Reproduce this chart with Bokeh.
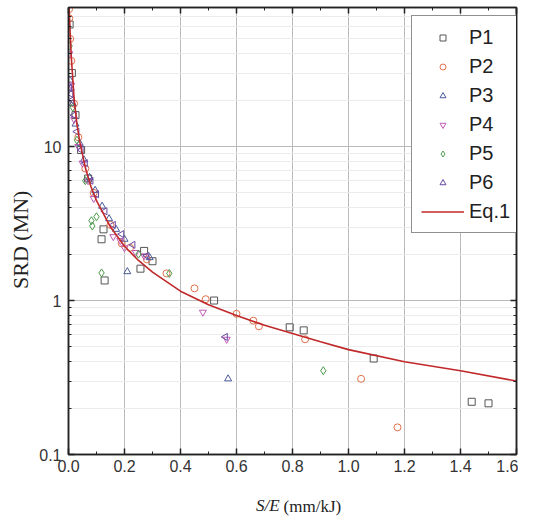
import math
from bokeh.plotting import figure
from bokeh.models import (Legend, LegendItem, LinearAxis, LogAxis, FixedTicker,
                          NumeralTickFormatter, Label, Range1d)
from bokeh.embed import file_html
from bokeh.resources import INLINE

# ---- data ----
p1_x = [0.004, 0.012, 0.025, 0.045, 0.07, 0.118, 0.125, 0.129, 0.257, 0.27, 0.30, 0.52, 0.79, 0.84, 1.09, 1.44, 1.50]
p1_y = [62, 30, 16, 9.5, 6.2, 2.5, 2.9, 1.35, 1.61, 2.1, 1.8, 1.0, 0.67, 0.64, 0.42, 0.22, 0.215]

p2_x = [0.002, 0.003, 0.006, 0.010, 0.020, 0.035, 0.060, 0.090, 0.15, 0.19, 0.22, 0.28, 0.35, 0.45, 0.49, 0.60, 0.66, 0.68, 0.845, 1.045, 1.175]
p2_y = [78, 68, 50, 36, 19, 11.5, 7.2, 5.0, 3.1, 2.35, 2.2, 1.85, 1.5, 1.2, 1.02, 0.82, 0.74, 0.68, 0.56, 0.31, 0.15]

p3_x = [0.005, 0.008, 0.015, 0.025, 0.040, 0.055, 0.075, 0.095, 0.12, 0.145, 0.17, 0.20, 0.21, 0.29, 0.57]
p3_y = [27, 24, 19, 14, 10.5, 8.2, 6.3, 5.2, 4.1, 3.4, 2.9, 2.5, 1.54, 1.9, 0.31]

p4_x = [0.003, 0.010, 0.020, 0.035, 0.050, 0.070, 0.090, 0.16, 0.185, 0.20, 0.24, 0.27, 0.48, 0.565]
p4_y = [40, 25, 15, 10, 7.8, 6.0, 4.6, 2.6, 2.45, 2.2, 2.05, 1.95, 0.84, 0.56]

p5_x = [0.004, 0.015, 0.030, 0.060, 0.082, 0.085, 0.100, 0.118, 0.25, 0.36, 0.91]
p5_y = [45, 18, 11, 6.0, 3.3, 3.05, 3.5, 1.51, 2.0, 1.5, 0.35]

p6_x = [0.004, 0.008, 0.012, 0.020, 0.030, 0.045, 0.060, 0.080, 0.10, 0.13, 0.16, 0.19, 0.23, 0.28, 0.56]
p6_y = [24, 22, 20, 16, 12.5, 9.5, 7.8, 6.0, 4.9, 3.8, 3.1, 2.7, 2.3, 1.95, 0.58]

eq_x = [0.002, 0.005, 0.01, 0.02, 0.03, 0.04, 0.06, 0.08, 0.10, 0.15, 0.20, 0.25, 0.30, 0.40, 0.50,
        0.60, 0.70, 0.80, 0.90, 1.00, 1.20, 1.40, 1.60]
eq_y = [80, 60, 38, 20.5, 14.0, 10.8, 7.3, 5.5, 4.45, 3.0, 2.25, 1.82, 1.53, 1.15, 0.94,
        0.80, 0.69, 0.61, 0.54, 0.48, 0.40, 0.35, 0.30]

x_ticks = [0.0, 0.2, 0.4, 0.6, 0.8, 1.0, 1.2, 1.4, 1.6]
x_minor = [0.1, 0.3, 0.5, 0.7, 0.9, 1.1, 1.3, 1.5]
y_ticks = [0.1, 1, 10]
y_minor = [0.2, 0.3, 0.4, 0.5, 0.6, 0.7, 0.8, 0.9, 2, 3, 4, 5, 6, 7, 8, 9, 20, 30, 40, 50, 60, 70, 80]

# ---- figure ----
p = figure(frame_width=448, frame_height=447, x_range=Range1d(0, 1.6), y_range=Range1d(0.1, 80),
           y_axis_type="log", output_backend="svg", toolbar_location=None,
           min_border_left=68, min_border_right=2, min_border_top=7, min_border_bottom=64)
p.background_fill_color = "white"
p.outline_line_color = "#222222"
p.outline_line_width = 1.5

bottom = p.below[0]
left = p.left[0]
bottom.ticker = FixedTicker(ticks=x_ticks, minor_ticks=x_minor)
left.ticker = FixedTicker(ticks=y_ticks, minor_ticks=y_minor)
bottom.formatter = NumeralTickFormatter(format="0.0")
left.formatter = NumeralTickFormatter(format="0.[0]")

top = LinearAxis(ticker=FixedTicker(ticks=x_ticks, minor_ticks=x_minor),
                 major_label_text_font_size="1px", major_label_text_color=None,
                 major_label_standoff=0)
right = LogAxis(ticker=FixedTicker(ticks=y_ticks, minor_ticks=y_minor),
                major_label_text_font_size="1px", major_label_text_color=None,
                major_label_standoff=0)
p.add_layout(top, "above")
p.add_layout(right, "right")

for ax in [bottom, left, top, right]:
    ax.axis_line_width = 1.5
    ax.axis_line_color = "#222222"
    ax.major_tick_in = 6
    ax.major_tick_out = 0
    ax.minor_tick_in = 3
    ax.minor_tick_out = 0
    ax.major_tick_line_color = "#222222"
    ax.minor_tick_line_color = "#222222"
    ax.major_tick_line_width = 1.5

for ax in [bottom, left]:
    ax.major_label_text_font = "Liberation Sans"
    ax.major_label_text_font_size = "16px"
    ax.major_label_text_color = "#333333"
bottom.major_label_standoff = 5
left.major_label_standoff = 7

p.xgrid.grid_line_color = "#bbbbbb"
p.ygrid.grid_line_color = "#bbbbbb"
p.ygrid.minor_grid_line_color = "#ececec"

# ---- series ----
series = [
    ("P1", p1_x, p1_y, "square", "#555555", 0.0, 7),
    ("P2", p2_x, p2_y, "circle", "#e0704a", 0.0, 7),
    ("P3", p3_x, p3_y, "triangle", "#4a5a9a", 0.0, 7),
    ("P4", p4_x, p4_y, "inverted_triangle", "#c05ab8", 0.0, 7),
    ("P5", p5_x, p5_y, "diamond", "#4a9a4a", 0.0, 8),
    ("P6", p6_x, p6_y, "triangle", "#6a4aa0", math.pi / 2, 7),
]
items = []
for name, xs, ys, marker, color, ang, sz in series:
    r = p.scatter(xs, ys, marker=marker, size=sz, angle=ang, fill_color=None,
                  line_color=color, line_width=1)
    items.append(LegendItem(label=name, renderers=[r]))

rl = p.line(eq_x, eq_y, line_color="#c0282a", line_width=1.6)
items.append(LegendItem(label="Eq.1", renderers=[rl]))

legend = Legend(items=items, location=(343, 221))
legend.border_line_color = "#222222"
legend.border_line_width = 1
legend.background_fill_color = "white"
legend.background_fill_alpha = 1
legend.padding = 9
legend.spacing = 5
legend.margin = 0
legend.glyph_width = 43
legend.glyph_height = 15
legend.label_height = 24
legend.label_standoff = 5
legend.label_text_font = "Liberation Sans"
legend.label_text_font_size = "20px"
legend.label_text_color = "#222222"
p.add_layout(legend)

# ---- y axis title, in the panel left of the axis ----
p.add_layout(Label(x=9, y=2.48, x_units="screen", y_units="data", angle=math.pi / 2,
                   text="SRD (MN)", text_align="center", text_baseline="middle",
                   text_font="Liberation Serif", text_font_size="22px",
                   text_color="#222222"), "left")

# ---- x axis title: italic S/E followed by (mm/kJ), placed in the panel below ----
split_x = 0.754
p.add_layout(Label(x=split_x, y=-12, x_units="data", y_units="screen", text="S/E",
                   text_align="right", text_baseline="middle",
                   text_font="Liberation Serif", text_font_style="italic",
                   text_font_size="17px", text_color="#222222"), "below")
p.add_layout(Label(x=split_x, y=6, x_units="data", y_units="screen", x_offset=4,
                   text="(mm/kJ)", text_align="left", text_baseline="middle",
                   text_font="Liberation Serif",
                   text_font_size="17px", text_color="#222222"), "below")

open("out.html", "w").write(file_html(p, INLINE))
